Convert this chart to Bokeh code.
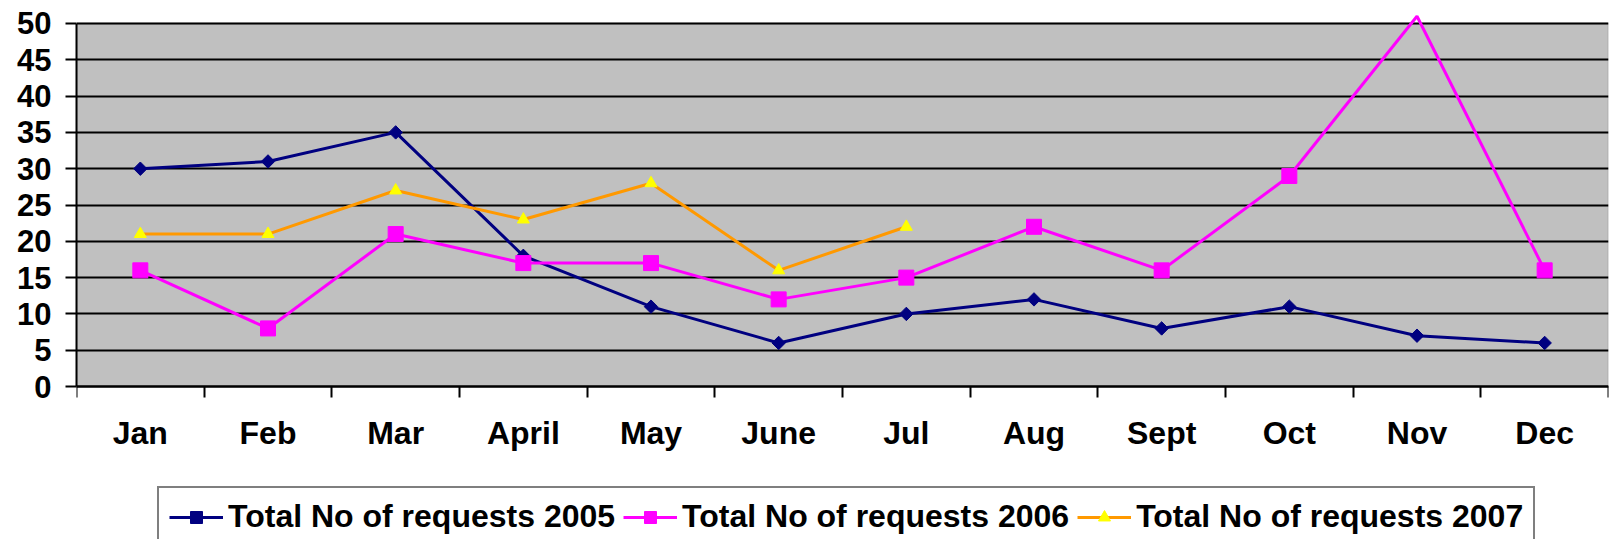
import math
from bokeh.plotting import figure
from bokeh.models import Range1d, FixedTicker, BoxAnnotation, Legend, LegendItem
from bokeh.embed import file_html
from bokeh.resources import INLINE

months = ["Jan", "Feb", "Mar", "April", "May", "June", "Jul", "Aug", "Sept", "Oct", "Nov", "Dec"]
requests_2005 = [30, 31, 35, 18, 11, 6, 10, 12, 8, 11, 7, 6]
requests_2006 = [16, 8, 21, 17, 17, 12, 15, 22, 16, 29, 51, 16]
requests_2007 = [21, 21, 27, 23, 28, 16, 22]
y_ticks = [0, 5, 10, 15, 20, 25, 30, 35, 40, 45, 50]
series_labels = ["Total No of requests 2005", "Total No of requests 2006", "Total No of requests 2007"]

FONT = "Liberation Sans"
y_max = y_ticks[-1]
x = list(range(1, len(months) + 1))
x_lo, x_hi = 0.5, len(months) + 0.5

# frame spans the whole height; the category axis sits at y = 0 inside it,
# leaving room below for month labels and the legend
p = figure(width=1609, height=539, output_backend="svg", toolbar_location=None,
           x_range=Range1d(x_lo, x_hi), y_range=Range1d(-21.07, 51.79),
           min_border_left=76, min_border_right=1, min_border_top=10, min_border_bottom=0,
           background_fill_color="white", border_fill_color="white", outline_line_color=None)

# plot area (gray) only from 0 up to the top tick, with a gray border
p.add_layout(BoxAnnotation(left=x_lo, right=x_hi, bottom=0, top=y_max,
                           fill_color="#C0C0C0", fill_alpha=1.0,
                           line_color="#808080", line_width=2, level="image"))

p.xgrid.visible = False
p.ygrid.grid_line_color = "black"
p.ygrid.grid_line_width = 2

# y axis
p.yaxis.ticker = FixedTicker(ticks=y_ticks, minor_ticks=[])
p.yaxis.bounds = (0, y_max)
p.yaxis.axis_line_width = 2
p.yaxis.axis_line_color = "black"
p.yaxis.major_tick_out = 11
p.yaxis.major_tick_in = 0
p.yaxis.major_tick_line_width = 2
p.yaxis.major_tick_line_color = "black"
p.yaxis.minor_tick_line_color = None
p.yaxis.major_label_standoff = 14
p.yaxis.major_label_text_font = FONT
p.yaxis.major_label_text_font_style = "bold"
p.yaxis.major_label_text_font_size = "31px"
p.yaxis.major_label_text_color = "black"

# x axis: at y = 0, labels at month centres, tick marks between months
p.xaxis.fixed_location = 0
p.xaxis.ticker = FixedTicker(ticks=x, minor_ticks=[i + 0.5 for i in range(len(months) + 1)])
p.xaxis.major_label_overrides = {i: m for i, m in zip(x, months)}
p.xaxis.axis_line_width = 2
p.xaxis.axis_line_color = "black"
p.xaxis.major_tick_out = 0
p.xaxis.major_tick_in = 0
p.xaxis.major_tick_line_color = None
p.xaxis.minor_tick_out = 11
p.xaxis.minor_tick_in = 0
p.xaxis.minor_tick_line_width = 2
p.xaxis.minor_tick_line_color = "black"
p.xaxis.major_label_standoff = 17
p.xaxis.major_label_text_font = FONT
p.xaxis.major_label_text_font_style = "bold"
p.xaxis.major_label_text_font_size = "32px"
p.xaxis.major_label_text_color = "black"

# series
r05 = p.line(x, requests_2005, line_color="#000080", line_width=3)
s05 = p.scatter(x, requests_2005, marker="square", angle=math.pi / 4, size=9.5,
                fill_color="#000080", line_color="#000080")

r06 = p.line(x, requests_2006, line_color="#FF00FF", line_width=3)
m06 = [v if v <= y_max else float("nan") for v in requests_2006]
s06 = p.scatter(x, m06, marker="square", size=15, fill_color="#FF00FF", line_color="#FF00FF")

x07 = x[:len(requests_2007)]
r07 = p.line(x07, requests_2007, line_color="#FF9900", line_width=3)
s07 = p.scatter(x07, requests_2007, marker="triangle", size=12,
                fill_color="#FFFF00", line_color="#FFFF00")

legend = Legend(items=[LegendItem(label=series_labels[0], renderers=[r05, s05]),
                       LegendItem(label=series_labels[1], renderers=[r06, s06]),
                       LegendItem(label=series_labels[2], renderers=[r07, s07])],
                orientation="horizontal", location=(81, -8),
                label_text_font=FONT, label_text_font_style="bold", label_text_font_size="32px",
                label_text_color="black",
                glyph_width=54, glyph_height=30, label_standoff=5, spacing=8, padding=10,
                margin=0, border_line_color="black", border_line_width=2,
                background_fill_color="white", background_fill_alpha=1.0)
p.add_layout(legend, "center")

open("out.html", "w").write(file_html(p, INLINE))
